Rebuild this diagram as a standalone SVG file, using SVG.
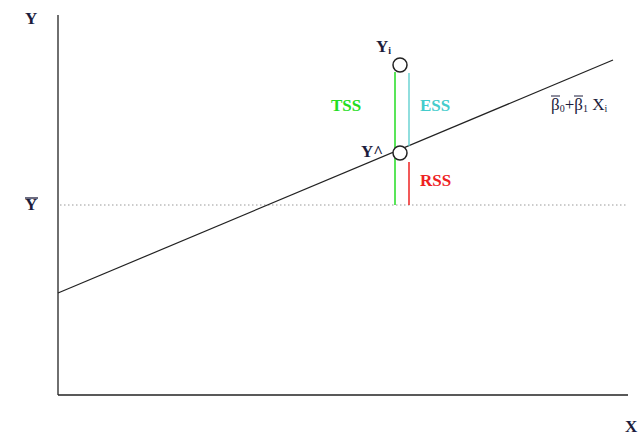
<svg xmlns="http://www.w3.org/2000/svg" width="640" height="436" viewBox="0 0 640 436">
<style>
.lbl{font-family:"Liberation Serif","Times New Roman",serif;font-size:17px;font-weight:bold;fill:#1c1c3c}
.ax{stroke:#222;stroke-width:1.3;fill:none}
</style>
<rect width="640" height="436" fill="#fff"/>
<g id="axes">
<line class="ax" x1="58" y1="15" x2="58" y2="395"/>
<line class="ax" x1="58" y1="395" x2="628" y2="395"/>
<line x1="60" y1="205" x2="628" y2="205" stroke="#999" stroke-width="1" stroke-dasharray="1.5,2.5"/>
<text class="lbl" x="25" y="24">Y</text>
<text class="lbl" x="625" y="432">X</text>
<text class="lbl" x="25" y="210">Y</text>
<line x1="25" y1="198" x2="38" y2="198" stroke="#1c1c3c" stroke-width="1.3"/>
</g>
<g id="regression-line">
<line x1="58" y1="293" x2="613" y2="60" stroke="#222" stroke-width="1.2"/>
<text class="lbl" x="551" y="110" font-weight="normal" style="font-weight:normal">β<tspan font-size="10" dy="2">0</tspan><tspan dy="-2">+β</tspan><tspan font-size="10" dy="2">1</tspan><tspan dy="-2"> X</tspan><tspan font-size="10" dy="2">i</tspan></text>
<line x1="551" y1="96" x2="560" y2="96" stroke="#1c1c3c" stroke-width="1"/>
<line x1="574" y1="96" x2="583" y2="96" stroke="#1c1c3c" stroke-width="1"/>
</g>
<g id="connectors">
<line x1="395" y1="72" x2="395" y2="205" stroke="#22dd22" stroke-width="1.5"/>
<line x1="409" y1="73" x2="409" y2="146" stroke="#55cccc" stroke-width="1.3"/>
<line x1="409" y1="162" x2="409" y2="205" stroke="#ee2222" stroke-width="1.5"/>
</g>
<g id="point-yi">
<circle cx="400" cy="65" r="7" fill="#fff" stroke="#222" stroke-width="1.5"/>
<text class="lbl" x="376" y="52">Y<tspan font-size="10" dy="2">i</tspan></text>
</g>
<g id="point-yhat">
<circle cx="400" cy="153" r="7" fill="#fff" stroke="#222" stroke-width="1.5"/>
<text class="lbl" x="361" y="157">Y^</text>
</g>
<g id="labels">
<text class="lbl" x="331" y="111" style="fill:#22dd22">TSS</text>
<text class="lbl" x="420" y="111" style="fill:#44cccc">ESS</text>
<text class="lbl" x="420" y="186" style="fill:#ee2222">RSS</text>
</g>
</svg>
